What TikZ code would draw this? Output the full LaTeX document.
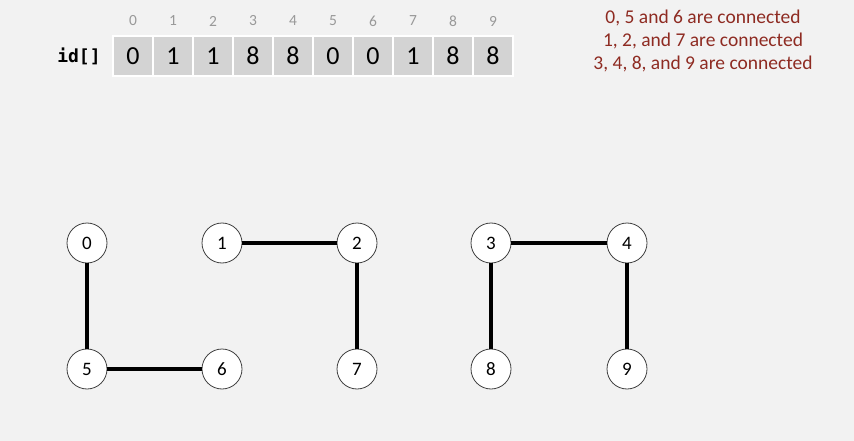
\documentclass[tikz,border=0pt]{standalone}
\usepackage{fontspec}
\setmainfont{Carlito}
\setmonofont{DejaVu Sans Mono}
\definecolor{bg}{HTML}{F2F2F2}
\definecolor{cellc}{HTML}{D3D3D3}
\definecolor{idxc}{HTML}{999999}
\definecolor{redc}{HTML}{8E2B22}
\begin{document}
\begin{tikzpicture}[x=1pt,y=-1pt,
  cellbox/.style={fill=cellc,draw=white,line width=1.5pt,minimum width=40pt,minimum height=40pt,inner sep=0pt,font=\fontsize{26}{26}\selectfont},
  idxlab/.style={text=idxc,font=\fontsize{15.5}{15.5}\selectfont,inner sep=0pt},
  vert/.style={circle,draw=black!75,fill=white,line width=0.8pt,minimum size=40pt,inner sep=0pt,font=\fontsize{19}{19}\selectfont},
  edge/.style={line width=3.5pt}]
\fill[bg] (0,0) rectangle (854,441);
\useasboundingbox (0,0) rectangle (854,441);
\node[font=\ttfamily\fontsize{18}{18}\selectfont,inner sep=0pt] (idl) at (79,56) {\textbf{id[]}};
\foreach \i/\v in {0/0,1/1,2/1,3/8,4/8,5/0,6/0,7/1,8/8,9/8}{
  \node[cellbox] (c\i) at (133+40*\i,56) {\v};
  \node[idxlab] (k\i) at (133+40*\i,21) {\i};
}
\node[text=redc,font=\fontsize{19.5}{23}\selectfont,align=center,inner sep=0pt] (note) at (703,40.5)
  {0, 5 and 6 are connected\\1, 2, and 7 are connected\\3, 4, 8, and 9 are connected};
\node[vert] (n0) at (87,243) {0};
\node[vert] (n1) at (222,243) {1};
\node[vert] (n2) at (357,243) {2};
\node[vert] (n3) at (491,243) {3};
\node[vert] (n4) at (627,243) {4};
\node[vert] (n5) at (87,369) {5};
\node[vert] (n6) at (222,369) {6};
\node[vert] (n7) at (357,369) {7};
\node[vert] (n8) at (491,369) {8};
\node[vert] (n9) at (627,369) {9};
\draw[edge] (n0) -- (n5);
\draw[edge] (n5) -- (n6);
\draw[edge] (n1) -- (n2);
\draw[edge] (n2) -- (n7);
\draw[edge] (n3) -- (n4);
\draw[edge] (n3) -- (n8);
\draw[edge] (n4) -- (n9);
\end{tikzpicture}
\end{document}
